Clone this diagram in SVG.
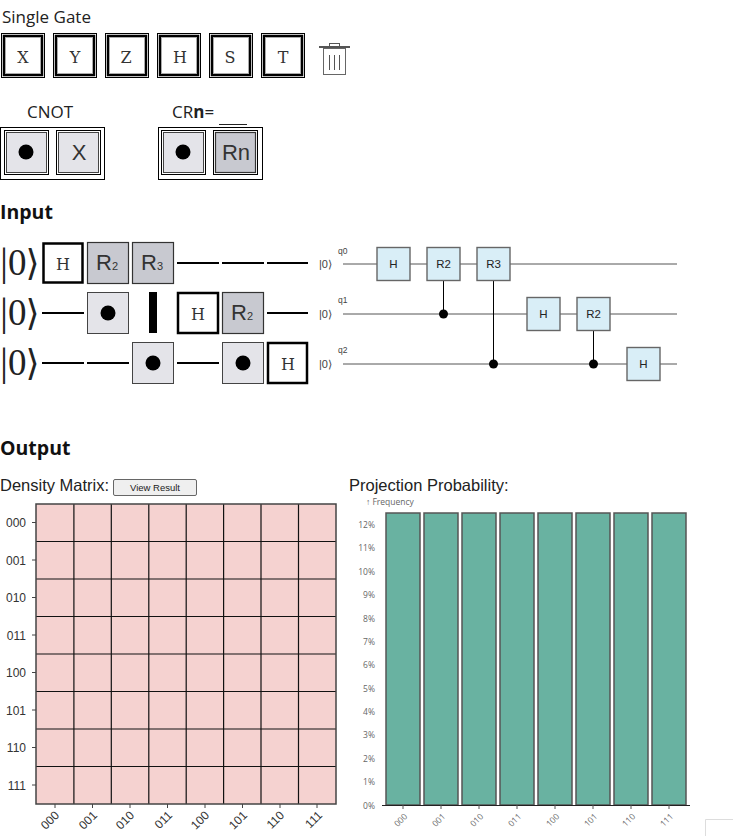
<svg xmlns="http://www.w3.org/2000/svg" width="733" height="836" viewBox="0 0 733 836">
<style>
.ui{font-family:"Open Sans","Noto Sans","Liberation Sans",sans-serif;fill:#222}
.hd{font-family:"Open Sans","Noto Sans","Liberation Sans",sans-serif;fill:#111;font-size:19.500px;font-weight:bold}
.ar{font-family:"Liberation Sans",Arial,sans-serif}
.se{font-family:"DejaVu Serif",serif;fill:#333;font-size:16px;text-anchor:middle}
.o{fill:none;stroke:#000;stroke-width:1}
.w{fill:#fff;stroke:#000;stroke-width:2.500}
.in{fill:none;stroke:#aaa;stroke-width:1}
.l{fill:#e4e4e9;stroke:#444;stroke-width:1}
.g{fill:#c8c9d0;stroke:#333;stroke-width:1.200}
.t{font-family:"Liberation Sans",Arial,sans-serif;fill:#333;font-size:22px;text-anchor:middle}
.ket{font-family:"Liberation Serif",serif;font-size:37px;fill:#222}
.kb{font-size:40px}
.ks{font-family:"DejaVu Serif",serif;font-size:36px}
.w0{stroke:#000;stroke-width:2;fill:none}
.q{stroke:#555;stroke-width:1;fill:none}
.c{stroke:#000;stroke-width:1;fill:none}
.b{fill:#d9eef7;stroke:#666;stroke-width:1.400}
.bt{font-family:"Liberation Sans",Arial,sans-serif;font-size:11.500px;fill:#222;text-anchor:middle}
.cell{fill:#f5d2d0;stroke:#111;stroke-width:1.200}
.ax{font-family:"Liberation Sans",Arial,sans-serif;font-size:12px;fill:#333}
.bar{fill:#69b2a1;stroke:#555;stroke-width:1.500}
.sm{font-family:"Open Sans","Liberation Sans",sans-serif;font-size:8.500px;fill:#666}
</style>
<text class="ui" x="2" y="23" font-size="17">Single Gate</text>
<g id="gate-X"><rect class="o" x="1.500" y="33.500" width="43" height="44"/><rect class="w" x="4" y="36" width="38" height="39"/><rect class="in" x="5.500" y="37.500" width="35" height="36"/><text class="se" x="23" y="63">X</text></g>
<g id="gate-Y"><rect class="o" x="53.500" y="33.500" width="43" height="44"/><rect class="w" x="56" y="36" width="38" height="39"/><rect class="in" x="57.500" y="37.500" width="35" height="36"/><text class="se" x="75" y="63">Y</text></g>
<g id="gate-Z"><rect class="o" x="105.500" y="33.500" width="43" height="44"/><rect class="w" x="108" y="36" width="38" height="39"/><rect class="in" x="109.500" y="37.500" width="35" height="36"/><text class="se" x="126" y="63">Z</text></g>
<g id="gate-H"><rect class="o" x="157.500" y="33.500" width="43" height="44"/><rect class="w" x="160" y="36" width="38" height="39"/><rect class="in" x="161.500" y="37.500" width="35" height="36"/><text class="se" x="180" y="63">H</text></g>
<g id="gate-S"><rect class="o" x="209.500" y="33.500" width="43" height="44"/><rect class="w" x="212" y="36" width="38" height="39"/><rect class="in" x="213.500" y="37.500" width="35" height="36"/><text class="se" x="230" y="63">S</text></g>
<g id="gate-T"><rect class="o" x="261.500" y="33.500" width="43" height="44"/><rect class="w" x="264" y="36" width="38" height="39"/><rect class="in" x="265.500" y="37.500" width="35" height="36"/><text class="se" x="283" y="63">T</text></g>
<g id="trash"><rect x="319" y="46" width="31" height="2" fill="#555"/><rect x="329.500" y="43.500" width="10" height="3" fill="none" stroke="#555"/><rect x="323.500" y="48.500" width="22" height="26" fill="#fff" stroke="#666"/><path d="M329.500 55V70M334.500 55V70M339.500 55V70" stroke="#555" fill="none"/></g>
<text class="ui" x="50" y="118" font-size="17" text-anchor="middle">CNOT</text>
<text class="ui" x="172" y="118" font-size="17">CR<tspan font-weight="bold">n</tspan>=</text>
<path d="M219 124.500H247" stroke="#222" fill="none"/>
<g id="cnot"><rect class="o" x="0.500" y="127.500" width="104" height="52"/><rect class="o" x="4.500" y="130.500" width="44" height="44"/><rect class="l" x="6.500" y="132.500" width="40" height="40"/><circle cx="26" cy="152" r="7.500"/><rect class="o" x="56.500" y="130.500" width="44" height="44"/><rect class="l" x="58.500" y="132.500" width="40" height="40"/><text class="t" x="79" y="160">X</text></g>
<g id="crn"><rect class="o" x="158.500" y="127.500" width="104" height="52"/><rect class="o" x="161.500" y="130.500" width="44" height="44"/><rect class="l" x="163.500" y="132.500" width="40" height="40"/><circle cx="183" cy="152" r="7.500"/><rect class="o" x="213.500" y="130.500" width="44" height="44"/><rect class="g" x="215.500" y="132.500" width="40" height="40"/><text class="t" x="236" y="160" font-size="20">Rn</text></g>
<text class="hd" x="0" y="219">Input</text>
<g id="input-circuit">
<text class="ket" y="275"><tspan class="kb" x="0">|</tspan><tspan x="8">0</tspan><tspan class="ks" x="25.500">⟩</tspan></text>
<text class="ket" y="325"><tspan class="kb" x="0">|</tspan><tspan x="8">0</tspan><tspan class="ks" x="25.500">⟩</tspan></text>
<text class="ket" y="375"><tspan class="kb" x="0">|</tspan><tspan x="8">0</tspan><tspan class="ks" x="25.500">⟩</tspan></text>
<g id="i-h0"><rect class="w" x="43.500" y="243.500" width="39" height="39"/><text class="se" x="63" y="270">H</text></g>
<g id="i-r2"><rect class="g" x="87.500" y="242.500" width="41" height="41"/><text class="t" x="107" y="270">R<tspan font-size="11">2</tspan></text></g>
<g id="i-r3"><rect class="g" x="132.500" y="242.500" width="41" height="41"/><text class="t" x="152" y="270">R<tspan font-size="11">3</tspan></text></g>
<path class="w0" d="M177 263H219M222 263H264M267 263H308M42 313H84M267 313H308M42 363H84M87 363H129M177 363H219"/>
<g id="i-c1"><rect class="l" x="87.500" y="292.500" width="41" height="41"/><circle cx="108" cy="313" r="7.500"/></g>
<rect id="i-bar" x="149" y="292" width="8" height="41"/>
<g id="i-h1"><rect class="w" x="178" y="293" width="40" height="40"/><text class="se" x="198" y="320">H</text></g>
<g id="i-r2b"><rect class="g" x="222.500" y="292.500" width="41" height="41"/><text class="t" x="242" y="320">R<tspan font-size="11">2</tspan></text></g>
<g id="i-c2"><rect class="l" x="132.500" y="342.500" width="41" height="41"/><circle cx="153" cy="363" r="7.500"/></g>
<g id="i-c3"><rect class="l" x="222.500" y="342.500" width="41" height="41"/><circle cx="243" cy="363" r="7.500"/></g>
<g id="i-h2"><rect class="w" x="268" y="343" width="39" height="40"/><text class="se" x="288" y="370">H</text></g>
</g>
<g id="connectors">
<path class="q" d="M343 264H677M343 314H677M343 364H677"/>
<path class="c" d="M443.500 280V314M493.500 280V364M593.500 330V364"/>
<circle cx="443.500" cy="314" r="4.500"/><circle cx="493.500" cy="364" r="4.500"/><circle cx="593.500" cy="364" r="4.500"/>
</g>
<g id="q-labels" class="ar" fill="#444">
<text x="319" y="268" font-size="11">|0⟩</text><text x="319" y="318" font-size="11">|0⟩</text><text x="319" y="368" font-size="11">|0⟩</text>
<text x="338" y="254" font-size="8.500">q0</text><text x="338" y="303" font-size="8.500">q1</text><text x="338" y="353" font-size="8.500">q2</text>
</g>
<g id="q-h0"><rect class="b" x="377" y="247.500" width="33" height="33"/><text class="bt" x="393.500" y="268">H</text></g>
<g id="q-r2"><rect class="b" x="427" y="247.500" width="33" height="33"/><text class="bt" x="443.500" y="268">R2</text></g>
<g id="q-r3"><rect class="b" x="477" y="247.500" width="33" height="33"/><text class="bt" x="493.500" y="268">R3</text></g>
<g id="q-h1"><rect class="b" x="527" y="297.500" width="33" height="33"/><text class="bt" x="543.500" y="318">H</text></g>
<g id="q-r2b"><rect class="b" x="577" y="297.500" width="33" height="33"/><text class="bt" x="593.500" y="318">R2</text></g>
<g id="q-h2"><rect class="b" x="627" y="347.500" width="33" height="33"/><text class="bt" x="643.500" y="368">H</text></g>
<text class="hd" x="0" y="455">Output</text>
<text class="ar" x="0" y="491" font-size="16.500" fill="#222">Density Matrix:</text>
<g id="view-result"><rect x="113.500" y="479.500" width="83" height="16" rx="1.500" fill="#efefef" stroke="#666"/><text class="ar" x="155" y="491" font-size="9.500" text-anchor="middle" fill="#222">View Result</text></g>
<text class="ar" x="349" y="491" font-size="16.500" fill="#222">Projection Probability:</text>
<g id="matrix">
<rect x="36" y="504" width="300" height="300" fill="#f5d2d0"/>
<path class="cell" d="M73.900 504V804M111.300 504V804M148.800 504V804M186.200 504V804M223.600 504V804M261 504V804M298.500 504V804M36 541.500H336M36 579H336M36 616.500H336M36 654H336M36 691.500H336M36 729H336M36 766.500H336"/>
<rect x="36" y="504" width="300" height="300" fill="none" stroke="#444" stroke-width="1.500"/>
<path d="M32 522.500H36M32 560H36M32 597.500H36M32 635H36M32 672.500H36M32 710H36M32 747.500H36M32 785H36M55 804V808M92.500 804V808M130 804V808M167.500 804V808M205 804V808M242.500 804V808M280 804V808M317 804V808" stroke="#444" fill="none"/>
<g class="ax" text-anchor="end"><text x="26" y="527">000</text><text x="26" y="565">001</text><text x="26" y="602">010</text><text x="26" y="640">011</text><text x="26" y="677">100</text><text x="26" y="715">101</text><text x="26" y="752">110</text><text x="26" y="790">111</text></g>
<g class="ax" text-anchor="end"><text transform="translate(60 816) rotate(-45)">000</text><text transform="translate(98 816) rotate(-45)">001</text><text transform="translate(135 816) rotate(-45)">010</text><text transform="translate(173 816) rotate(-45)">011</text><text transform="translate(210 816) rotate(-45)">100</text><text transform="translate(248 816) rotate(-45)">101</text><text transform="translate(285 816) rotate(-45)">110</text><text transform="translate(323 816) rotate(-45)">111</text></g>
</g>
<g id="chart">
<text class="sm" x="366" y="505">↑ Frequency</text>
<rect class="bar" x="386" y="513" width="34" height="292"/><rect class="bar" x="424" y="513" width="34" height="292"/><rect class="bar" x="462" y="513" width="34" height="292"/><rect class="bar" x="500" y="513" width="34" height="292"/><rect class="bar" x="538" y="513" width="34" height="292"/><rect class="bar" x="576" y="513" width="34" height="292"/><rect class="bar" x="614" y="513" width="34" height="292"/><rect class="bar" x="652" y="513" width="34" height="292"/>
<path d="M382 805.500H690" stroke="#222" fill="none"/>
<path d="M403 805V809M441 805V809M479 805V809M517 805V809M555 805V809M593 805V809M631 805V809M669 805V809" stroke="#555" fill="none"/>
<g class="sm" text-anchor="end"><text x="375" y="528">12%</text><text x="375" y="551">11%</text><text x="375" y="575">10%</text><text x="375" y="598">9%</text><text x="375" y="622">8%</text><text x="375" y="645">7%</text><text x="375" y="668">6%</text><text x="375" y="692">5%</text><text x="375" y="715">4%</text><text x="375" y="738">3%</text><text x="375" y="762">2%</text><text x="375" y="785">1%</text><text x="375" y="809">0%</text></g>
<g class="sm" text-anchor="end"><text transform="translate(408 817) rotate(-45)">000</text><text transform="translate(446 817) rotate(-45)">001</text><text transform="translate(484 817) rotate(-45)">010</text><text transform="translate(522 817) rotate(-45)">011</text><text transform="translate(560 817) rotate(-45)">100</text><text transform="translate(598 817) rotate(-45)">101</text><text transform="translate(636 817) rotate(-45)">110</text><text transform="translate(674 817) rotate(-45)">111</text></g>
</g>
<path id="corner" d="M733 819.500H705.500V836" fill="none" stroke="#ddd"/>
</svg>
